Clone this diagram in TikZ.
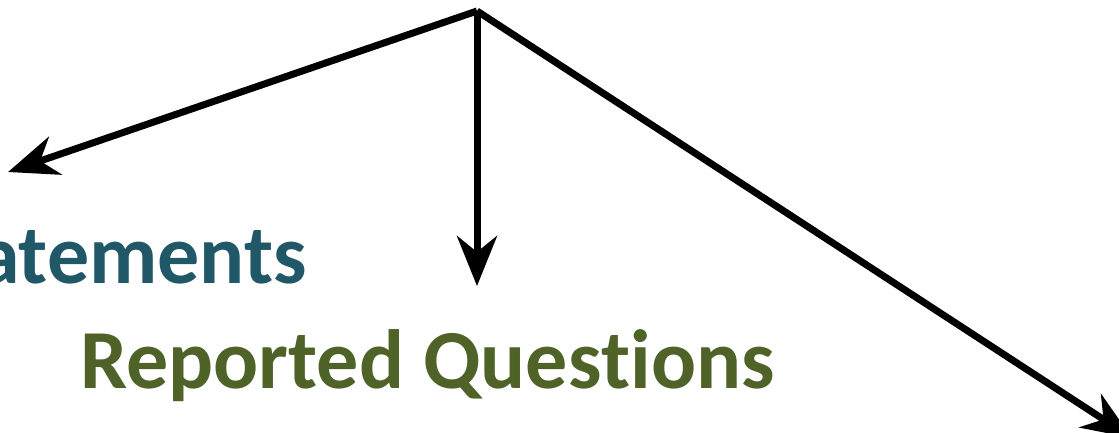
\documentclass[tikz,border=0pt]{standalone}
\usepackage{fontspec}
\setmainfont[RawFeature={-liga;-clig;-calt;-dlig}]{Carlito}
\usetikzlibrary{arrows.meta}
\definecolor{tealtxt}{HTML}{215868}
\definecolor{olivetxt}{HTML}{4F6228}
\tikzset{
  conn/.style={line width=7pt, -{Stealth[length=50pt,width=40pt,inset=16pt]}},
  lbl/.style={font=\fontsize{84}{100}\selectfont\bfseries, inner sep=0pt}
}
\begin{document}
\begin{tikzpicture}[x=1pt,y=-1pt]
\useasboundingbox (0,0) rectangle (1119,432);
\coordinate (top) at (477,11);
\coordinate (l) at (8,172);
\coordinate (m) at (477,286);
\coordinate (r) at (1132,438);
\draw[conn] (top) -- (l);
\draw[conn] (top) -- (m);
\draw[conn] (top) -- (r);
\node[lbl, text=tealtxt, anchor=base east] (st) at (307,283) {Statements};
\node[lbl, text=olivetxt, anchor=base west] (rq) at (80,388) {Reported Ques\kern0pt tions};
\end{tikzpicture}
\end{document}
